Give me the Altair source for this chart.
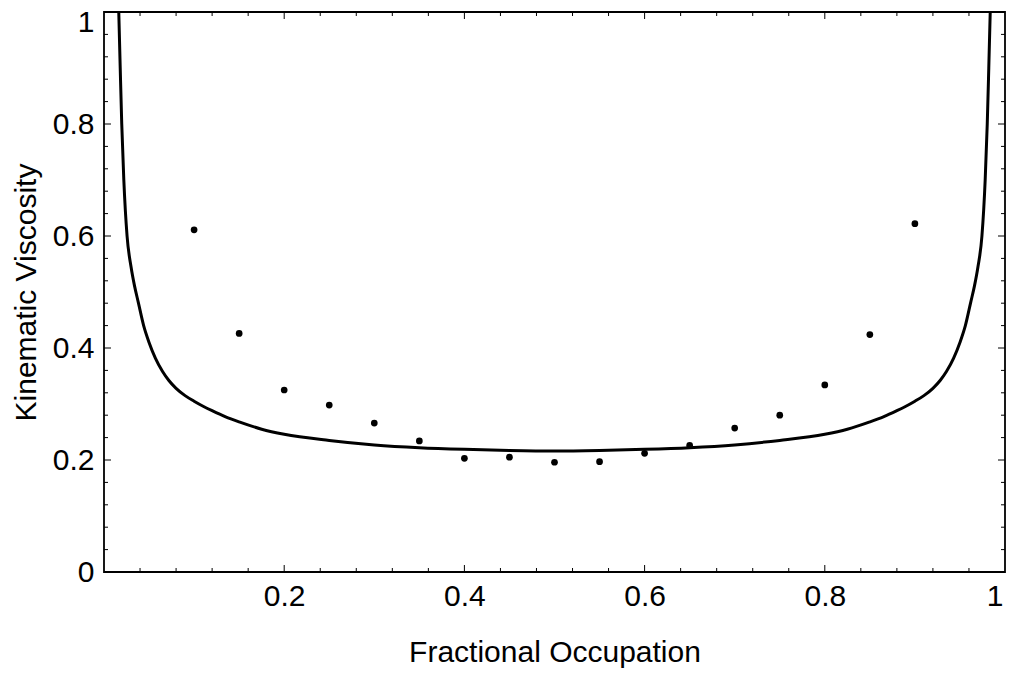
import altair as alt
import pandas as pd

# Measured points (Fractional Occupation, Kinematic Viscosity)
pt_x = [0.10, 0.15, 0.20, 0.25, 0.30, 0.35, 0.40, 0.45, 0.50, 0.55, 0.60, 0.65, 0.70, 0.75, 0.80, 0.85, 0.90]
pt_y = [0.611, 0.426, 0.325, 0.298, 0.266, 0.234, 0.203, 0.205, 0.196, 0.197, 0.212, 0.226, 0.257, 0.280, 0.334, 0.424, 0.622]

# Theory curve
curve_x = [0.0164, 0.018, 0.0197, 0.022, 0.0256, 0.030, 0.034, 0.038, 0.044, 0.050, 0.057, 0.065,
           0.072, 0.080, 0.090, 0.100, 0.110, 0.120, 0.135, 0.150, 0.175, 0.200, 0.250, 0.300,
           0.350, 0.400, 0.450, 0.500, 0.550, 0.600, 0.650, 0.700, 0.750, 0.800, 0.825, 0.850,
           0.865, 0.880, 0.890, 0.900, 0.910, 0.920, 0.928, 0.935, 0.943, 0.950, 0.956, 0.962,
           0.966, 0.970, 0.9744, 0.978, 0.9803, 0.982, 0.9836]
curve_y = [1.000, 0.900, 0.800, 0.700, 0.600, 0.545, 0.510, 0.482, 0.440, 0.410, 0.382, 0.358,
           0.342, 0.328, 0.315, 0.305, 0.296, 0.288, 0.277, 0.268, 0.255, 0.246, 0.235, 0.227,
           0.222, 0.219, 0.217, 0.216, 0.217, 0.219, 0.222, 0.227, 0.235, 0.246, 0.255, 0.268,
           0.277, 0.288, 0.296, 0.305, 0.315, 0.328, 0.342, 0.358, 0.382, 0.410, 0.440, 0.482,
           0.510, 0.545, 0.600, 0.700, 0.800, 0.900, 1.000]

x_labels = [0.2, 0.4, 0.6, 0.8, 1.0]
y_labels = [0.0, 0.2, 0.4, 0.6, 0.8, 1.0]
major_ticks = [0.2, 0.4, 0.6, 0.8]
minor_ticks = [0.04, 0.08, 0.12, 0.16, 0.24, 0.28, 0.32, 0.36, 0.44, 0.48, 0.52, 0.56,
               0.64, 0.68, 0.72, 0.76, 0.84, 0.88, 0.92, 0.96]

W, H = 901, 560
FONT = "Liberation Sans"

pts = pd.DataFrame({"x": pt_x, "y": pt_y})
crv = pd.DataFrame({"x": curve_x, "y": curve_y})
maj = pd.DataFrame({"t": major_ticks})
mnr = pd.DataFrame({"t": minor_ticks})

xs = alt.Scale(domain=[0, 1], nice=False, zero=False)
ys = alt.Scale(domain=[0, 1], nice=False, zero=False)

x_axis = alt.Axis(values=x_labels, format="~g", ticks=False, domain=False, grid=False,
                  labelFontSize=30, labelFont=FONT, labelColor="black", labelPadding=9,
                  labelOffset={"condition": {"test": "datum.value == 1", "value": -2}, "value": 0},
                  title="Fractional Occupation", titleFont=FONT, titleFontSize=30,
                  titleFontWeight="normal", titleColor="black",
                  titleX=W / 2, titleY=89, titleBaseline="alphabetic")
y_axis = alt.Axis(values=y_labels, format="~g", ticks=False, domain=False, grid=False,
                  labelFontSize=30, labelFont=FONT, labelColor="black", labelPadding=10,
                  labelOffset={"condition": {"test": "datum.value == 1", "value": 10}, "value": 0},
                  title="Kinematic Viscosity", titleFont=FONT, titleFontSize=30,
                  titleFontWeight="normal", titleColor="black",
                  titleX=-69, titleY=H / 2, titleBaseline="alphabetic")

def X(f):
    return alt.X(f, type="quantitative", scale=xs, axis=x_axis)

def Y(f):
    return alt.Y(f, type="quantitative", scale=ys, axis=y_axis)

line = alt.Chart(crv).mark_line(color="black", strokeWidth=3, clip=True,
                                interpolate="monotone").encode(
    x=X("x"), y=Y("y"), order="x:Q",
)

points = alt.Chart(pts).mark_circle(color="black", opacity=1, size=45).encode(
    x=X("x"), y=Y("y"),
)

def xticks(df, y0, y1):
    return alt.Chart(df).mark_rule(color="black", strokeWidth=1).encode(
        x=X("t"), y=alt.value(y0), y2=alt.value(y1))

def yticks(df, x0, x1):
    return alt.Chart(df).mark_rule(color="black", strokeWidth=1).encode(
        y=Y("t"), x=alt.value(x0), x2=alt.value(x1))

layers = [
    line, points,
    xticks(maj, H, H - 7), xticks(mnr, H, H - 4),
    xticks(maj, 0, 7), xticks(mnr, 0, 4),
    yticks(maj, 0, 7), yticks(mnr, 0, 4),
    yticks(maj, W, W - 7), yticks(mnr, W, W - 4),
]

chart = alt.layer(*layers).properties(
    width=W, height=H,
    autosize=alt.AutoSizeParams(type="none"),
    padding={"left": 96, "top": 4, "right": 2, "bottom": 96},
    background="white",
).configure_view(stroke="black", strokeWidth=1.8, fill="white")

chart.save("out.html", embed_options={"renderer": "svg", "actions": False})
